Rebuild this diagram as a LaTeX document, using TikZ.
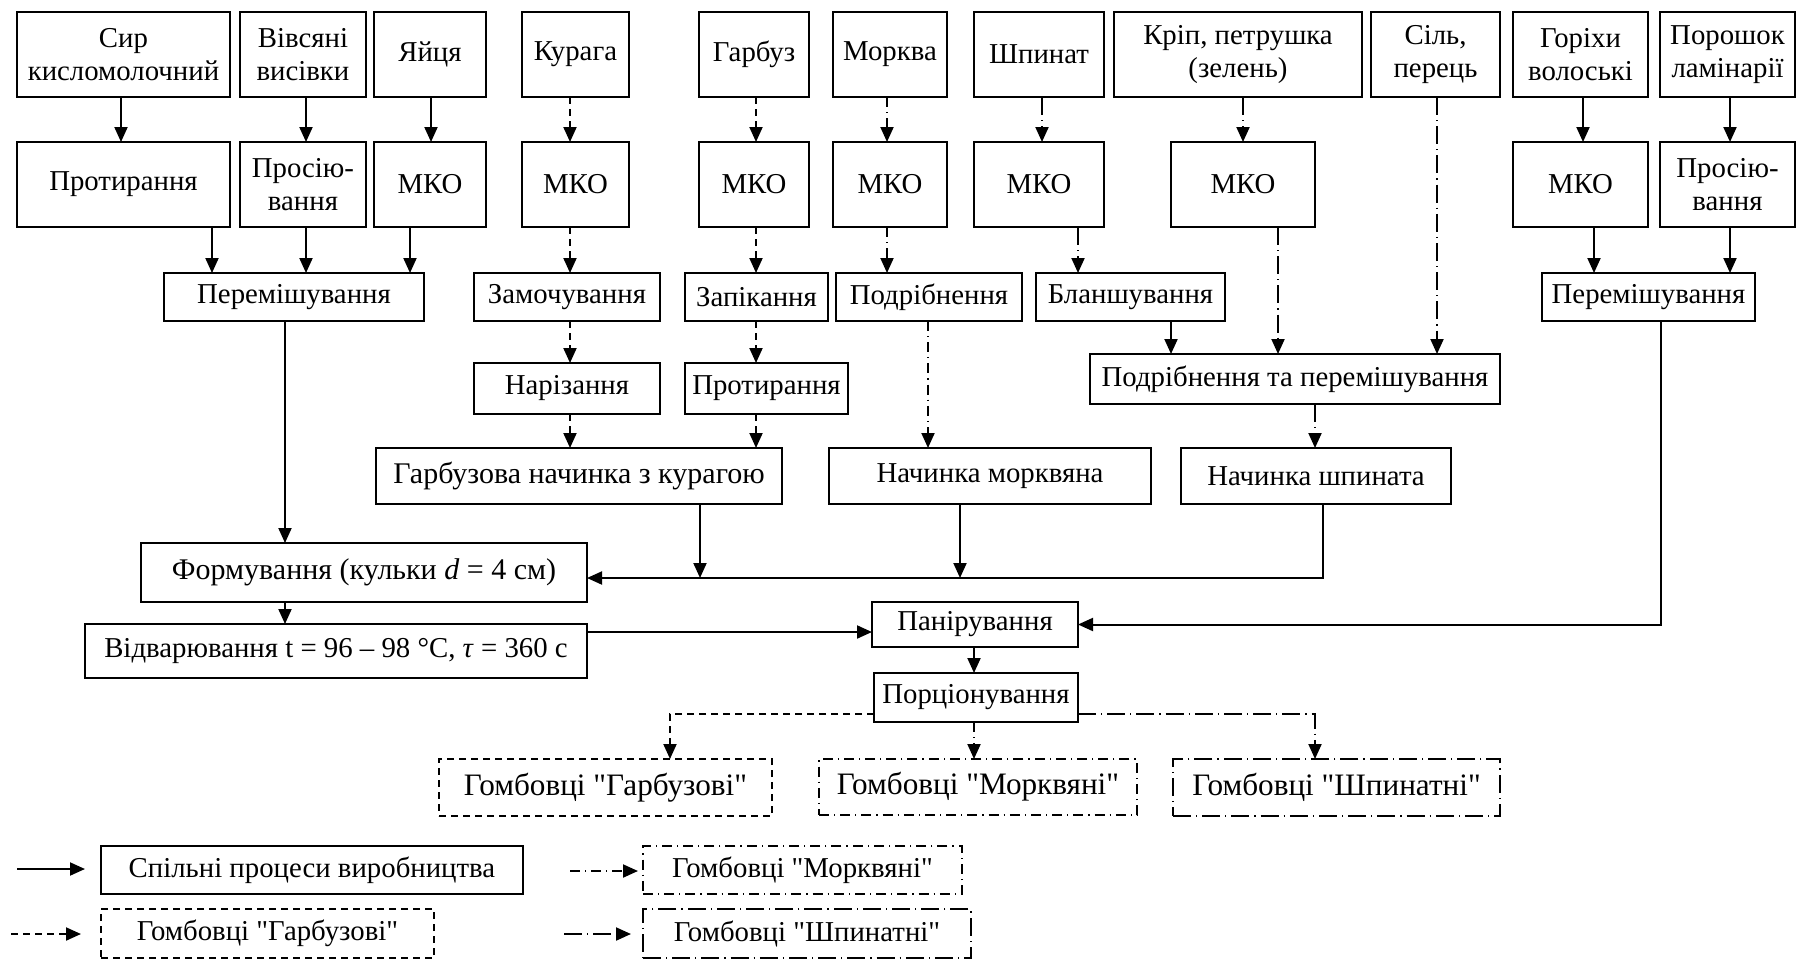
\documentclass[tikz,border=0pt]{standalone}
\usepackage{fontspec}
\setmainfont{Liberation Serif}[Ligatures=TeXOff]
\usetikzlibrary{arrows.meta}
\tikzset{
  box/.style={draw, line width=0.9pt, inner sep=0pt, outer sep=0pt, align=center,
    font=\rmfamily\fontsize{14.4}{16.7}\selectfont},
  big/.style={font=\rmfamily\fontsize{15}{17}\selectfont},
  bigger/.style={font=\rmfamily\fontsize{15.6}{18}\selectfont},
  arr/.style={line width=1pt, -{Triangle[length=7.5pt,width=6.5pt]}},
  pump/.style={dash pattern=on 3.5pt off 2.5pt},
  mork/.style={dash pattern=on 5pt off 2.5pt on 0.6pt off 2.5pt},
  spin/.style={dash pattern=on 9pt off 2.5pt on 0.6pt off 2.5pt},
}
\newcommand\putbox[7][]{%
  \pgfmathsetmacro\bw{(#5-#3)*0.5}%
  \pgfmathsetmacro\bh{(#6-#4)*0.5}%
  \node[box,#1,minimum width=\bw pt,minimum height=\bh pt] (#2) at ({(#3+#5)/2},{(#4+#6)/2}) {#7};}
\begin{document}
\begin{tikzpicture}[x=0.5pt,y=-0.5pt]
\useasboundingbox (0,0) rectangle (1798,959);
% ---------- top row
\putbox{syr}{17}{12}{230}{97}{Сир\\кисломолочний}
\putbox{viv}{240}{12}{366}{97}{Вівсяні\\висівки}
\putbox{yay}{374}{12}{486}{97}{Яйця}
\putbox{kur}{522}{12}{629}{97}{Курага}
\putbox{garb}{699}{12}{809}{97}{Гарбуз}
\putbox{mrk}{833}{12}{947}{97}{Морква}
\putbox{shp}{974}{12}{1104}{97}{Шпинат}
\putbox{krp}{1114}{12}{1362}{97}{Кріп, петрушка\\(зелень)}
\putbox{sil}{1371}{12}{1500}{97}{Сіль,\\перець}
\putbox{gor}{1513}{12}{1648}{97}{Горіхи\\волоські}
\putbox{por}{1660}{12}{1795}{97}{Порошок\\ламінарії}
% ---------- second row
\putbox{prot}{17}{142}{230}{227}{Протирання}
\putbox{pros}{240}{142}{366}{227}{Просію-\\вання}
\putbox{mkoA}{374}{142}{486}{227}{МКО}
\putbox{mkoB}{522}{142}{629}{227}{МКО}
\putbox{mkoC}{699}{142}{809}{227}{МКО}
\putbox{mkoD}{833}{142}{947}{227}{МКО}
\putbox{mkoE}{974}{142}{1104}{227}{\raisebox{-4pt}{МКО}}
\putbox{mkoF}{1171}{142}{1315}{227}{\raisebox{-4pt}{МКО}}
\putbox{mkoG}{1513}{142}{1648}{227}{МКО}
\putbox{prosR}{1660}{142}{1795}{227}{Просію-\\вання}
% ---------- third row
\putbox{mixL}{164}{273}{424}{321}{Перемішування}
\putbox{zam}{474}{273}{660}{321}{Замочування}
\putbox{zap}{685}{273}{828}{321}{Запікання}
\putbox{podr}{836}{273}{1022}{321}{Подрібнення}
\putbox{blan}{1036}{273}{1225}{321}{Бланшування}
\putbox{mixR}{1542}{273}{1755}{321}{Перемішування}
% ---------- fourth row
\putbox{nar}{474}{363}{660}{414}{Нарізання}
\putbox{protB}{685}{363}{848}{414}{Протирання}
\putbox{ptp}{1090}{354}{1500}{404}{Подрібнення та перемішування}
% ---------- fillings
\putbox[big]{ngar}{376}{448}{782}{504}{Гарбузова начинка з курагою}
\putbox{nmor}{829}{448}{1151}{504}{Начинка морквяна}
\putbox{nshp}{1181}{448}{1451}{504}{Начинка шпината}
% ---------- lower part
\putbox[big]{form}{141}{543}{587}{602}{Формування (кульки \textit{d} = 4 см)}
\putbox{vid}{85}{624}{587}{678}{Відварювання t = 96 – 98 °C, \textit{τ} = 360 с}
\putbox{pan}{872}{602}{1078}{647}{Панірування}
\putbox{porc}{874}{673}{1078}{722}{Порціонування}
\putbox[pump,bigger]{gomG}{439}{759}{772}{816}{Гомбовці "Гарбузові"}
\putbox[mork,bigger]{gomM}{819}{759}{1137}{815}{Гомбовці "Морквяні"}
\putbox[spin,bigger]{gomS}{1173}{759}{1500}{816}{Гомбовці "Шпинатні"}
% ---------- legend
\putbox{legA}{101}{846}{523}{894}{Спільні процеси виробництва}
\putbox[pump]{legB}{101}{909}{434}{958}{Гомбовці "Гарбузові"}
\putbox[mork]{legC}{643}{846}{962}{894}{Гомбовці "Морквяні"}
\putbox[spin]{legD}{643}{909}{971}{958}{Гомбовці "Шпинатні"}
% ---------- column / row helper coordinates
\foreach \c in {121,212,285,306,410,431,570,670,700,756,887,928,960,974,1042,1078,1171,1243,1278,1315,1323,1437,1583,1594,1661,1730}
  {\coordinate (X\c) at (\c,0);}
\coordinate (Y578) at (0,578);
\coordinate (Y632) at (0,632);
\coordinate (Y714) at (0,714);
% ---------- solid connectors
\draw[arr] (X121 |- syr.south) -- (X121 |- prot.north);
\draw[arr] (X306 |- viv.south) -- (X306 |- pros.north);
\draw[arr] (X431 |- yay.south) -- (X431 |- mkoA.north);
\draw[arr] (X212 |- prot.south) -- (X212 |- mixL.north);
\draw[arr] (X306 |- pros.south) -- (X306 |- mixL.north);
\draw[arr] (X410 |- mkoA.south) -- (X410 |- mixL.north);
\draw[arr] (X285 |- mixL.south) -- (X285 |- form.north);
\draw[arr] (X285 |- form.south) -- (X285 |- vid.north);
\draw[arr] (X700 |- ngar.south) -- (X700 |- Y578);
\draw[arr] (X960 |- nmor.south) -- (X960 |- Y578);
\draw[arr] (X1323 |- nshp.south) |- (form.east |- Y578);
\draw[arr] (vid.east |- Y632) -- (pan.west |- Y632);
\draw[arr] (X1583 |- gor.south) -- (X1583 |- mkoG.north);
\draw[arr] (X1730 |- por.south) -- (X1730 |- prosR.north);
\draw[arr] (X1594 |- mkoG.south) -- (X1594 |- mixR.north);
\draw[arr] (X1730 |- prosR.south) -- (X1730 |- mixR.north);
\draw[arr] (X1661 |- mixR.south) |- (pan.east);
\draw[arr] (X974 |- pan.south) -- (X974 |- porc.north);
% ---------- pumpkin (dashed)
\draw[arr,pump] (X570 |- kur.south) -- (X570 |- mkoB.north);
\draw[arr,pump] (X570 |- mkoB.south) -- (X570 |- zam.north);
\draw[arr,pump] (X570 |- zam.south) -- (X570 |- nar.north);
\draw[arr,pump] (X570 |- nar.south) -- (X570 |- ngar.north);
\draw[arr,pump] (X756 |- garb.south) -- (X756 |- mkoC.north);
\draw[arr,pump] (X756 |- mkoC.south) -- (X756 |- zap.north);
\draw[arr,pump] (X756 |- zap.south) -- (X756 |- protB.north);
\draw[arr,pump] (X756 |- protB.south) -- (X756 |- ngar.north);
\draw[arr,pump] (porc.west |- Y714) -| (X670 |- gomG.north);
% ---------- carrot
\draw[arr,mork] (X887 |- mrk.south) -- (X887 |- mkoD.north);
\draw[arr,mork] (X887 |- mkoD.south) -- (X887 |- podr.north);
\draw[arr,mork] (X928 |- podr.south) -- (X928 |- nmor.north);
\draw[arr,mork] (X974 |- porc.south) -- (X974 |- gomM.north);
% ---------- spinach
\draw[arr,spin] (X1042 |- shp.south) -- (X1042 |- mkoE.north);
\draw[arr,spin] (X1078 |- mkoE.south) -- (X1078 |- blan.north);
\draw[arr,spin] (X1171 |- blan.south) -- (X1171 |- ptp.north);
\draw[arr,spin] (X1243 |- krp.south) -- (X1243 |- mkoF.north);
\draw[arr,spin] (X1278 |- mkoF.south) -- (X1278 |- ptp.north);
\draw[arr,spin] (X1437 |- sil.south) -- (X1437 |- ptp.north);
\draw[arr,spin] (X1315 |- ptp.south) -- (X1315 |- nshp.north);
\draw[arr,spin] (porc.east |- Y714) -| (X1315 |- gomS.north);
% ---------- legend arrows
\coordinate (la1) at (17,869);  \coordinate (la2) at (85,869);
\coordinate (lb1) at (11,934);  \coordinate (lb2) at (81,934);
\coordinate (lc1) at (570,871); \coordinate (lc2) at (638,871);
\coordinate (ld1) at (564,934); \coordinate (ld2) at (631,934);
\draw[arr] (la1) -- (la2);
\draw[arr,pump] (lb1) -- (lb2);
\draw[arr,mork] (lc1) -- (lc2);
\draw[arr,spin] (ld1) -- (ld2);
\end{tikzpicture}
\end{document}
